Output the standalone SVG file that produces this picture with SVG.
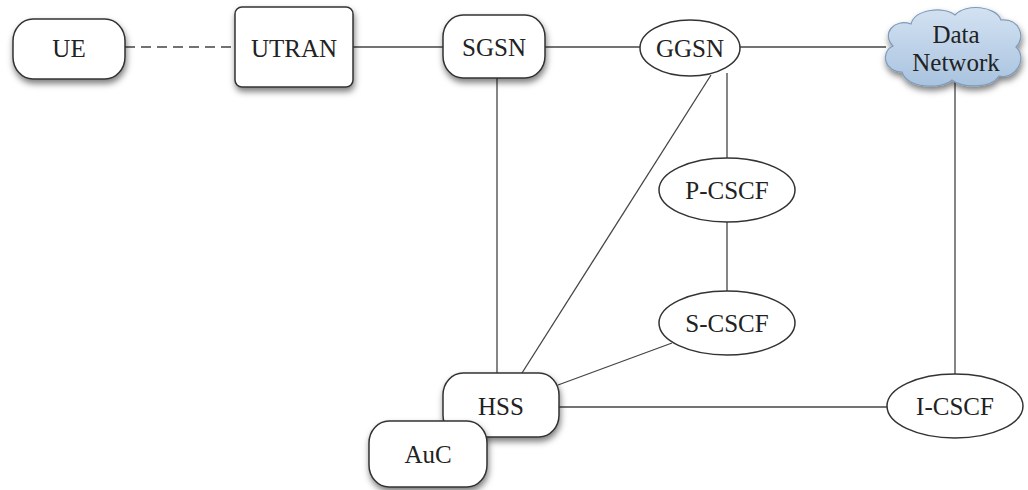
<svg xmlns="http://www.w3.org/2000/svg" width="1028" height="490" viewBox="0 0 1028 490">
<style>
.n{fill:#fff;stroke:#333;stroke-width:1.5}
.t{font-family:"Liberation Serif",serif;font-size:25px;fill:#222;text-anchor:middle;dominant-baseline:central}
.c{stroke:#444;stroke-width:1.3;fill:none}
</style>
<defs>
<filter id="sh" x="-20%" y="-20%" width="140%" height="160%">
<feDropShadow dx="1" dy="4" stdDeviation="3" flood-color="#000" flood-opacity="0.5"/>
</filter>
<linearGradient id="cg" x1="0" y1="0" x2="0" y2="1">
<stop offset="0" stop-color="#d3e2f2"/>
<stop offset="1" stop-color="#a9c3df"/>
</linearGradient>
</defs>
<rect width="1028" height="490" fill="#fff"/>
<g id="connectors">
<line class="c" x1="125" y1="47" x2="235" y2="47" stroke-dasharray="10 6"/>
<line class="c" x1="353" y1="47" x2="443" y2="47"/>
<line class="c" x1="545" y1="47" x2="640" y2="47"/>
<line class="c" x1="740" y1="47" x2="886" y2="47"/>
<line class="c" x1="955" y1="80" x2="955" y2="375"/>
<line class="c" x1="727" y1="73" x2="727" y2="158"/>
<line class="c" x1="727" y1="222" x2="727" y2="291"/>
<line class="c" x1="497" y1="78" x2="497" y2="373"/>
<line class="c" x1="711" y1="75" x2="522" y2="373"/>
<line class="c" x1="672" y1="343" x2="558" y2="385"/>
<line class="c" x1="558" y1="407" x2="887" y2="407"/>
</g>
<g id="UE"><rect class="n" filter="url(#sh)" x="13" y="19" width="112" height="60" rx="20" ry="22"/><text class="t" x="69" y="48">UE</text></g>
<g id="UTRAN"><rect class="n" filter="url(#sh)" x="235" y="7" width="118" height="80" rx="7"/><text class="t" x="294" y="48">UTRAN</text></g>
<g id="SGSN"><rect class="n" filter="url(#sh)" x="443" y="15" width="102" height="63" rx="20" ry="22"/><text class="t" x="494" y="47">SGSN</text></g>
<g id="GGSN"><ellipse class="n" cx="690" cy="48" rx="50" ry="28"/><text class="t" x="690" y="48">GGSN</text></g>
<g id="DataNetwork"><path filter="url(#sh)" fill="url(#cg)" stroke="#7f9bbb" stroke-width="1.2" d="M902,72 C884,72 880,52 893,46 C881,34 894,18 911,24 C915,9 944,6 955,15 C966,3 996,6 1001,20 C1020,18 1026,38 1016,47 C1028,58 1016,80 999,76 C991,89 962,88 952,80 C941,90 906,88 902,72 Z"/><text class="t" x="956" y="34">Data</text><text class="t" x="956" y="62">Network</text></g>
<g id="PCSCF"><ellipse class="n" cx="727" cy="190" rx="68" ry="32"/><text class="t" x="727" y="190">P-CSCF</text></g>
<g id="SCSCF"><ellipse class="n" cx="727" cy="323" rx="68" ry="32"/><text class="t" x="727" y="323">S-CSCF</text></g>
<g id="ICSCF"><ellipse class="n" cx="955" cy="406" rx="68" ry="32"/><text class="t" x="955" y="406">I-CSCF</text></g>
<g id="HSS"><rect class="n" filter="url(#sh)" x="443" y="373" width="116" height="64" rx="20" ry="22"/><text class="t" x="501" y="406">HSS</text></g>
<g id="AuC"><rect class="n" filter="url(#sh)" x="369" y="421" width="118" height="66" rx="20" ry="22"/><text class="t" x="428" y="454">AuC</text></g>
</svg>
